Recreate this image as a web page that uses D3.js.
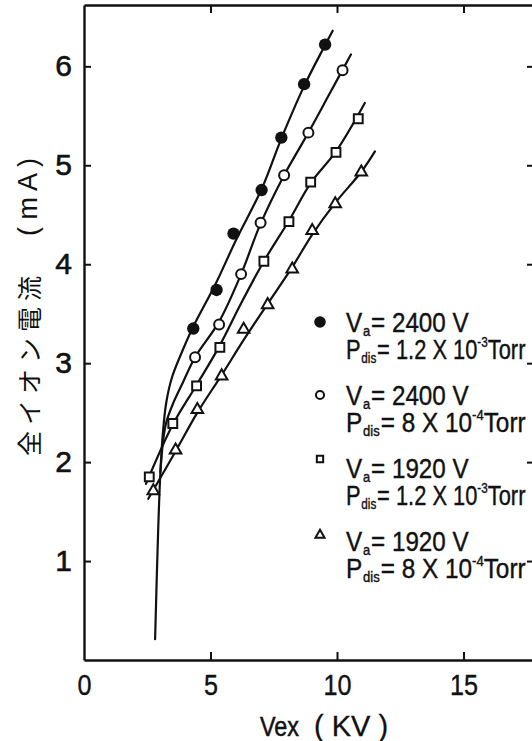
<!DOCTYPE html>
<html>
<head>
<meta charset="utf-8">
<script src="https://cdn.jsdelivr.net/npm/d3@7"></script>
<style>
  body { margin: 0; background: #fff; }
  text { fill: #111; }
</style>
</head>
<body>
<svg id="chart" width="532" height="741"></svg>
<script>
// Total ion current versus extraction voltage for four source conditions.

const xTicks = [0, 5, 10, 15];
const yTicks = [1, 2, 3, 4, 5, 6];

// Measured points: Vex in kV, total ion current in mA
const vexFilled = [4.32, 5.24, 5.91, 7.02, 7.80, 8.70, 9.53];
const curFilled = [3.35, 3.74, 4.31, 4.75, 5.28, 5.82, 6.22];
const vexOpen   = [4.39, 5.34, 6.21, 6.98, 7.91, 8.87, 10.22];
const curOpen   = [3.06, 3.39, 3.90, 4.42, 4.90, 5.33, 5.96];
const vexSquare = [2.58, 3.51, 4.45, 5.37, 7.11, 8.10, 8.96, 9.96, 10.84];
const curSquare = [1.85, 2.39, 2.77, 3.16, 4.03, 4.43, 4.83, 5.13, 5.47];
const vexTri    = [2.74, 3.62, 4.48, 5.44, 6.31, 7.26, 8.23, 9.02, 9.93, 10.96];
const curTri    = [1.71, 2.12, 2.53, 2.87, 3.34, 3.59, 3.95, 4.34, 4.61, 4.93];

// Smooth trend curves through each series
const fitFilledX = [2.81, 2.93, 3.02, 3.12, 3.25, 3.47, 3.85, 4.32, 5.20, 6.00, 7.02, 7.80, 8.70, 9.50, 9.83];
const fitFilledY = [0.21, 1.30, 1.90, 2.30, 2.60, 2.85, 3.10, 3.37, 3.80, 4.24, 4.76, 5.27, 5.80, 6.20, 6.36];
const fitOpenX   = [3.02, 3.12, 3.25, 3.50, 3.90, 4.39, 5.34, 6.21, 6.98, 7.91, 8.87, 9.70, 10.55];
const fitOpenY   = [1.90, 2.20, 2.40, 2.58, 2.80, 3.06, 3.42, 3.90, 4.41, 4.90, 5.33, 5.72, 6.12];
const fitSquareX = [2.45, 3.51, 4.45, 5.37, 6.20, 7.11, 8.10, 8.96, 9.96, 11.10];
const fitSquareY = [1.78, 2.38, 2.78, 3.18, 3.60, 4.03, 4.44, 4.82, 5.14, 5.63];
const fitTriX    = [2.54, 3.60, 4.48, 5.44, 6.35, 7.26, 8.23, 9.02, 9.93, 10.98, 11.50];
const fitTriY    = [1.63, 2.10, 2.50, 2.88, 3.25, 3.60, 3.97, 4.30, 4.62, 4.94, 5.14];

// Legend: anode voltage and discharge pressure (mantissa x 10^exp Torr)
const legendVa   = ["2400", "2400", "1920", "1920"];
const legendMant = ["1.2", "8", "1.2", "8"];
const legendExp  = ["-3", "-4", "-3", "-4"];
const legendKind = ["filled", "open", "square", "tri"];

const NUM_FONT = "'Liberation Sans', Arial, sans-serif";
const CJK_FONT = "'Noto Sans CJK JP', 'Noto Sans CJK SC', sans-serif";

const svg = d3.select("#chart");
svg.append("rect").attr("width", 532).attr("height", 741).attr("fill", "#fff");

const x = d3.scaleLinear().domain([0, 20]).range([84, 84 + 20 * 25.3]);
const y = d3.scaleLinear().domain([0, 6.62]).range([660, 5]);
const xRight = 536;

// squeeze a text horizontally so that it spans the given width
function fitWidth(g, textSel, width) {
  const w = textSel.node().getComputedTextLength();
  const tr = g.attr("transform") || "";
  g.attr("transform", `${tr} scale(${width / w},1)`);
}

// ---- frame and ticks (all ticks point inward)
const axisStroke = 2.4;
function styleAxis(g) {
  g.select(".domain").attr("stroke", "#111").attr("stroke-width", axisStroke);
  g.selectAll(".tick line").attr("stroke", "#111").attr("stroke-width", 2);
}

svg.append("g")
  .attr("transform", `translate(0,${y(0)})`)
  .call(d3.axisBottom(x).tickValues(xTicks).tickFormat(d3.format("d"))
    .tickSizeInner(-8).tickSizeOuter(0).tickPadding(14))
  .call(styleAxis)
  .call(g => g.selectAll(".tick text")
    .attr("font-family", NUM_FONT).attr("font-size", 30).attr("fill", "#111")
    .attr("stroke", "#111").attr("stroke-width", 0.4)
    .attr("transform", "scale(0.84,1)"))
  .call(g => g.selectAll(".tick").filter(d => d === 0).select("line").remove());

svg.append("g")
  .attr("transform", `translate(0,${y(6.62)})`)
  .call(d3.axisTop(x).tickValues(xTicks.filter(d => d > 0)).tickSizeInner(-8).tickSizeOuter(0).tickFormat(""))
  .call(styleAxis);

svg.append("g")
  .attr("transform", `translate(${x(0)},0)`)
  .call(d3.axisLeft(y).tickValues(yTicks).tickFormat(d3.format("d"))
    .tickSizeInner(-7).tickSizeOuter(0).tickPadding(12))
  .call(styleAxis)
  .call(g => g.selectAll(".tick text")
    .attr("font-family", NUM_FONT).attr("font-size", 30).attr("fill", "#111")
    .attr("stroke", "#111").attr("stroke-width", 0.6));

svg.append("g")
  .attr("transform", `translate(${xRight},0)`)
  .call(d3.axisRight(y).tickValues(yTicks).tickSizeInner(-9).tickSizeOuter(0).tickFormat(""))
  .call(styleAxis);

// ---- axis titles
const gVex = svg.append("g").attr("transform", "translate(260,736)");
const tVex = gVex.append("text")
  .attr("font-family", NUM_FONT).attr("font-size", 27)
  .attr("stroke", "#111").attr("stroke-width", 0.5)
  .text("Vex");
fitWidth(gVex, tVex, 39);

svg.append("text")
  .attr("x", 314).attr("y", 736)
  .attr("font-family", NUM_FONT).attr("font-size", 29)
  .attr("stroke", "#111").attr("stroke-width", 0.3)
  .attr("xml:space", "preserve")
  .text("( KV )");

svg.append("text")
  .attr("transform", "translate(28,456) rotate(-90)")
  .attr("font-family", CJK_FONT).attr("font-size", 25)
  .attr("letter-spacing", 6)
  .attr("dominant-baseline", "central")
  .text("全イオン電流");
svg.append("text")
  .attr("transform", "translate(28,158) rotate(-90)")
  .attr("font-family", NUM_FONT).attr("font-size", 27)
  .attr("text-anchor", "end")
  .attr("dominant-baseline", "central")
  .attr("xml:space", "preserve")
  .text("( m A )");

// ---- trend curves
const curve = d3.line()
  .x(d => x(d[0])).y(d => y(d[1]))
  .curve(d3.curveCatmullRom.alpha(0.5));
const fits = [
  [fitFilledX, fitFilledY], [fitOpenX, fitOpenY],
  [fitSquareX, fitSquareY], [fitTriX, fitTriY]
];
svg.append("g").selectAll("path")
  .data(fits.map(([xs, ys]) => xs.map((v, i) => [v, ys[i]])))
  .join("path")
  .attr("d", curve)
  .attr("fill", "none").attr("stroke", "#111").attr("stroke-width", 2.2)
  .attr("stroke-linejoin", "round").attr("stroke-linecap", "round");

// ---- markers
const markerStyle = {
  filled: { type: d3.symbolCircle,   size: 120, fill: "#111", sw: 0 },
  open:   { type: d3.symbolCircle,   size: 78,  fill: "#fff", sw: 2 },
  square: { type: d3.symbolSquare,   size: 78,  fill: "#fff", sw: 2 },
  tri:    { type: d3.symbolTriangle, size: 58,  fill: "#fff", sw: 2 }
};
const seriesPts = [
  ["filled", vexFilled, curFilled], ["open", vexOpen, curOpen],
  ["square", vexSquare, curSquare], ["tri", vexTri, curTri]
];
seriesPts.forEach(([kind, xs, ys]) => {
  const st = markerStyle[kind];
  svg.append("g").selectAll("path")
    .data(xs.map((v, i) => [v, ys[i]]))
    .join("path")
    .attr("transform", d => `translate(${x(d[0])},${y(d[1])})`)
    .attr("d", d3.symbol().type(st.type).size(st.size))
    .attr("fill", st.fill).attr("stroke", "#111").attr("stroke-width", st.sw);
});

// ---- legend
const legendMarker = {
  filled: { type: d3.symbolCircle,   size: 105, fill: "#111", sw: 0, lift: 10 },
  open:   { type: d3.symbolCircle,   size: 52,  fill: "#fff", sw: 2, lift: 10 },
  square: { type: d3.symbolSquare,   size: 40,  fill: "#fff", sw: 2, lift: 19 },
  tri:    { type: d3.symbolTriangle, size: 36,  fill: "#fff", sw: 2, lift: 16 }
};
const leg = svg.append("g").attr("font-family", NUM_FONT).attr("font-size", 28)
  .attr("stroke", "#111").attr("stroke-width", 0.4);
legendKind.forEach((kind, i) => {
  const yv = 332 + i * 73;
  const yp = yv + 27;
  const st = legendMarker[kind];
  leg.append("path")
    .attr("transform", `translate(320,${yv - st.lift})`)
    .attr("d", d3.symbol().type(st.type).size(st.size))
    .attr("fill", st.fill).attr("stroke", "#111").attr("stroke-width", st.sw);

  const g1 = leg.append("g").attr("transform", `translate(346,${yv})`);
  const t1 = g1.append("text").attr("xml:space", "preserve");
  t1.append("tspan").text("V");
  t1.append("tspan").attr("font-size", 15).attr("dx", 1).attr("dy", 4).text("a");
  t1.append("tspan").attr("dx", 1).attr("dy", -4).text(`= ${legendVa[i]} V`);
  fitWidth(g1, t1, 121);

  const g2 = leg.append("g").attr("transform", `translate(346,${yp})`);
  const t2 = g2.append("text").attr("xml:space", "preserve");
  t2.append("tspan").text("P");
  t2.append("tspan").attr("font-size", 15).attr("dx", 1).attr("dy", 4).text("dis");
  t2.append("tspan").attr("dx", 1).attr("dy", -4).text(`= ${legendMant[i]} X 10`);
  t2.append("tspan").attr("font-size", 15).attr("dy", -12).text(legendExp[i]);
  t2.append("tspan").attr("dy", 12).text("Torr");
  fitWidth(g2, t2, 178);
});
</script>
</body>
</html>
